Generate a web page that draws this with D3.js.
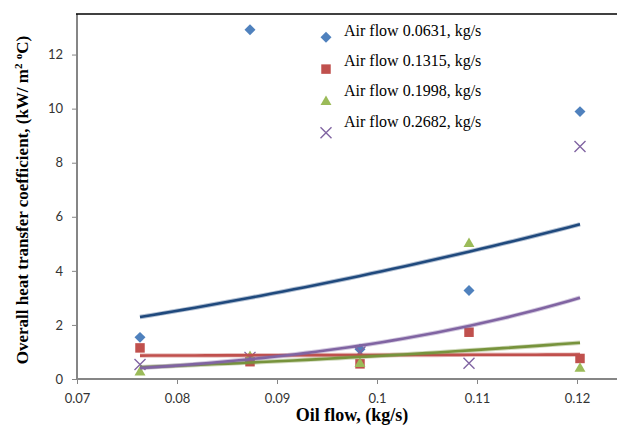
<!DOCTYPE html>
<html>
<head>
<meta charset="utf-8">
<script src="https://cdn.jsdelivr.net/npm/d3@7"></script>
<style>
  body { margin: 0; background: #fff; }
  svg { display: block; }
</style>
</head>
<body>
<svg id="chart"></svg>
<script>
// Data
const oilFlow = [0.0763, 0.0873, 0.0983, 0.1092, 0.1203];
const seriesNames = ["Air flow 0.0631, kg/s", "Air flow 0.1315, kg/s", "Air flow 0.1998, kg/s", "Air flow 0.2682, kg/s"];
const air0631 = [1.54, 12.92, 1.10, 3.27, 9.89];
const air1315 = [1.15, 0.64, 0.56, 1.73, 0.76];
const air1998 = [0.28, 0.86, 0.60, 5.04, 0.42];
const air2682 = [0.54, 0.80, 1.00, 0.58, 8.60];
const xTicks = [0.07, 0.08, 0.09, 0.1, 0.11, 0.12];
const yTicks = [0, 2, 4, 6, 8, 10, 12];

const width = 617;
const height = 425;

const svg = d3.select("#chart")
  .attr("width", width)
  .attr("height", height);

svg.append("rect")
  .attr("width", width)
  .attr("height", height)
  .attr("fill", "#fff");

const x = d3.scaleLinear()
  .domain([0.07, 0.13])
  .range([77, 677]);

const y = d3.scaleLinear()
  .domain([0, 13.5])
  .range([379, 14]);

// markers and colours per series
const styles = [
  { marker: "diamond", fill: "#4F81BD", line: "#1F497D" },
  { marker: "square", fill: "#C0504D", line: "#C0504D" },
  { marker: "triangle", fill: "#9BBB59", line: "#77933C" },
  { marker: "cross", fill: "#8064A2", line: "#8064A2" }
];

const series = [air0631, air1315, air1998, air2682].map((vals, i) => ({
  name: seriesNames[i],
  style: styles[i],
  points: oilFlow.map((xv, j) => ({ x: xv, y: vals[j] }))
}));

function drawMarker(g, type, color) {
  if (type === "diamond") {
    g.append("path")
      .attr("d", d3.symbol(d3.symbolSquare, 60)())
      .attr("transform", "rotate(45)")
      .attr("fill", color);
  } else if (type === "square") {
    g.append("path")
      .attr("d", d3.symbol(d3.symbolSquare, 90)())
      .attr("fill", color);
  } else if (type === "triangle") {
    g.append("path")
      .attr("d", d3.symbol(d3.symbolTriangle, 52)())
      .attr("transform", "translate(0,1)")
      .attr("fill", color);
  } else {
    g.append("path")
      .attr("d", "M-5.5,-5.5L5.5,5.5M-5.5,5.5L5.5,-5.5")
      .attr("stroke", color)
      .attr("stroke-width", 1.4)
      .attr("fill", "none");
  }
}

// Axes
const xAxis = svg.append("g")
  .attr("transform", `translate(0,${y(0)})`)
  .call(d3.axisBottom(x).tickValues(xTicks).tickSize(5).tickFormat(d => String(+d.toFixed(2))));
xAxis.select(".domain").attr("stroke", "#868686").attr("stroke-width", 2)
  .attr("d", `M${x(0.07)},0H${width}`);
xAxis.selectAll(".tick line").attr("stroke", "#868686");
xAxis.selectAll(".tick text")
  .attr("dy", "1.2em")
  .attr("fill", "#333")
  .style("font-family", "Lato, 'Open Sans', sans-serif")
  .style("font-size", "13px");

const yAxis = svg.append("g")
  .attr("transform", `translate(${x(0.07)},0)`)
  .call(d3.axisLeft(y).tickValues(yTicks).tickSize(5).tickPadding(9));
yAxis.select(".domain").attr("stroke", "#868686").attr("stroke-width", 2)
  .attr("d", `M0,${y(0)}V${y(13.5)}`);
yAxis.selectAll(".tick line").attr("stroke", "#868686");
yAxis.selectAll(".tick text")
  .attr("fill", "#333")
  .style("font-family", "Lato, 'Open Sans', sans-serif")
  .style("font-size", "13px");

// top border of plot area
svg.append("line")
  .attr("x1", x(0.07) - 1)
  .attr("x2", width)
  .attr("y1", y(13.5))
  .attr("y2", y(13.5))
  .attr("stroke", "#000")
  .attr("stroke-width", 1.5);

// data markers
series.forEach(s => {
  s.points.forEach(p => {
    const g = svg.append("g").attr("transform", `translate(${x(p.x)},${y(p.y)})`);
    drawMarker(g, s.style.marker, s.style.fill);
  });
});

// power trend lines (y = a * x^b), fitted from each series
function powerFit(points) {
  const lx = points.map(p => Math.log(p.x));
  const ly = points.map(p => Math.log(p.y));
  const mx = d3.mean(lx);
  const my = d3.mean(ly);
  const b = d3.sum(lx, (v, i) => (v - mx) * (ly[i] - my)) / d3.sum(lx, v => (v - mx) * (v - mx));
  const a = Math.exp(my - b * mx);
  return xv => a * Math.pow(xv, b);
}

const line = d3.line()
  .x(d => x(d.x))
  .y(d => y(d.y));

const xMin = d3.min(oilFlow);
const xMax = d3.max(oilFlow);

series.forEach(s => {
  const f = powerFit(s.points);
  const pts = d3.range(0, 41).map(i => {
    const xv = xMin + (xMax - xMin) * i / 40;
    return { x: xv, y: f(xv) };
  });
  svg.append("path")
    .datum(pts)
    .attr("d", line)
    .attr("fill", "none")
    .attr("stroke", s.style.line)
    .attr("stroke-opacity", 0.35)
    .attr("stroke-width", 4.5);
  svg.append("path")
    .datum(pts)
    .attr("d", line)
    .attr("fill", "none")
    .attr("stroke", s.style.line)
    .attr("stroke-width", 2.6);
});

// Legend
const legend = svg.append("g");
series.forEach((s, i) => {
  const g = legend.append("g").attr("transform", `translate(326,${37.3 + i * 31.8})`);
  drawMarker(g, s.style.marker, s.style.fill);
  legend.append("text")
    .attr("x", 344)
    .attr("y", 35.7 + i * 30.3)
    .style("font-family", "'Liberation Serif', 'Times New Roman', serif")
    .style("font-size", "16px")
    .attr("fill", "#000")
    .text(s.name);
});

// Axis titles
svg.append("text")
  .attr("x", 352)
  .attr("y", 421)
  .attr("text-anchor", "middle")
  .style("font-family", "'Liberation Serif', 'Times New Roman', serif")
  .style("font-size", "18px")
  .style("font-weight", "bold")
  .text("Oil flow, (kg/s)");

const yTitle = svg.append("text")
  .attr("transform", "translate(28,200) rotate(-90)")
  .attr("text-anchor", "middle")
  .style("font-family", "'Liberation Serif', 'Times New Roman', serif")
  .style("font-size", "17px")
  .style("font-weight", "bold");
yTitle.append("tspan").text("Overall heat transfer coefficient, (kW/ m");
yTitle.append("tspan").attr("dy", -6).style("font-size", "11px").text("2");
yTitle.append("tspan").attr("dy", 0).text(" ");
yTitle.append("tspan").style("font-size", "11px").text("o");
yTitle.append("tspan").attr("dy", 6).text("C)");
</script>
</body>
</html>
